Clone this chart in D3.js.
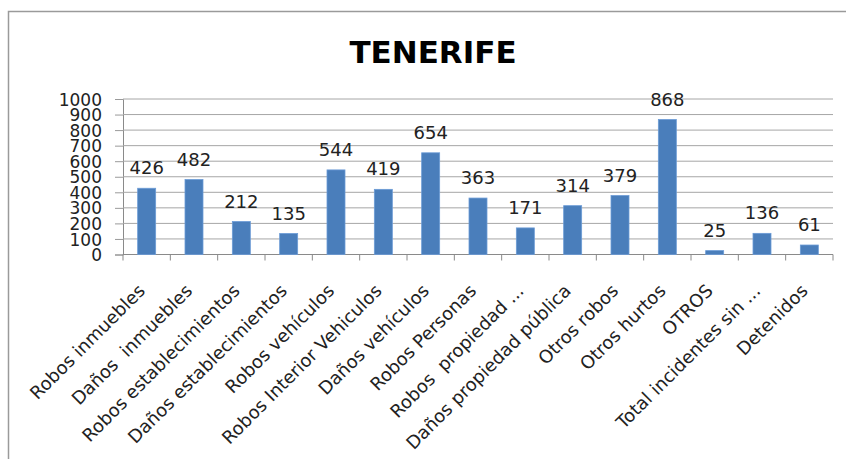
<!DOCTYPE html>
<html>
<head>
<meta charset="utf-8">
<script src="https://cdn.jsdelivr.net/npm/d3@7"></script>
<style>
  body { margin: 0; background: #fff; }
  text { font-family: "DejaVu Sans", sans-serif; fill: #222; }
</style>
</head>
<body>
<svg id="chart"></svg>
<script>
let categories = ['Robos inmuebles', 'Daños  inmuebles', 'Robos establecimientos',
  'Daños establecimientos', 'Robos vehículos', 'Robos Interior Vehiculos',
  'Daños vehículos', 'Robos Personas', 'Robos  propiedad ...', 'Daños propiedad pública',
  'Otros robos', 'Otros hurtos', 'OTROS', 'Total incidentes sin ...', 'Detenidos'];
let values = [426, 482, 212, 135, 544, 419, 654, 363, 171, 314, 379, 868, 25, 136, 61];
let yTicks = [0, 100, 200, 300, 400, 500, 600, 700, 800, 900, 1000];
let title = 'TENERIFE';

let width = 846, height = 459;
let plotLeft = 123, plotRight = 833, plotTop = 99, plotBottom = 254.5;

let svg = d3.select('#chart')
  .attr('width', width)
  .attr('height', height);

// frame
svg.append('path')
  .attr('d', 'M8.5,' + height + 'V11.5H' + width)
  .attr('fill', 'none')
  .attr('stroke', '#9a9a9a')
  .attr('stroke-width', 1.5);

svg.append('text')
  .attr('x', 433)
  .attr('y', 63)
  .attr('text-anchor', 'middle')
  .style('font-size', '31px')
  .style('font-weight', 'bold')
  .style('fill', '#000')
  .text(title);

let x = d3.scaleBand().domain(categories).range([plotLeft, plotRight]).paddingInner(0.62).paddingOuter(0.31);
let xTick = d3.scaleLinear().domain([0, categories.length]).range([plotLeft, plotRight]);
let y = d3.scaleLinear().domain([0, 1000]).range([plotBottom, plotTop]);

// y axis
let yAxis = d3.axisLeft(y).tickValues(yTicks).tickFormat(d3.format('d')).tickSize(8).tickPadding(13);
let gy = svg.append('g').attr('transform', 'translate(' + plotLeft + ',0)').call(yAxis);
gy.select('.domain').attr('stroke', '#8a8a8a');
gy.selectAll('.tick line').attr('stroke', '#9a9a9a');
gy.selectAll('.tick text').style('font-size', '17px').attr('fill', '#222').attr('dy', '0.36em');

// grid lines
svg.append('g')
  .selectAll('line')
  .data(yTicks.filter(d => d > 0))
  .join('line')
  .attr('x1', plotLeft).attr('x2', plotRight)
  .attr('y1', d => y(d)).attr('y2', d => y(d))
  .attr('stroke', '#a6a6a6');

// x axis with ticks between categories
svg.append('line')
  .attr('x1', plotLeft).attr('x2', plotRight)
  .attr('y1', plotBottom).attr('y2', plotBottom)
  .attr('stroke', '#8a8a8a');
svg.append('g')
  .selectAll('line')
  .data(d3.range(categories.length + 1))
  .join('line')
  .attr('x1', d => xTick(d)).attr('x2', d => xTick(d))
  .attr('y1', plotBottom).attr('y2', plotBottom + 6)
  .attr('stroke', '#8a8a8a');

// bars
svg.append('g')
  .selectAll('rect')
  .data(values)
  .join('rect')
  .attr('x', (d, i) => x(categories[i]))
  .attr('width', x.bandwidth())
  .attr('y', d => y(d))
  .attr('height', d => y(0) - y(d))
  .attr('fill', '#4a7ebb')
  .attr('stroke', '#6b9bd6')
  .attr('stroke-width', 0.8);

// value labels
svg.append('g')
  .selectAll('text')
  .data(values)
  .join('text')
  .attr('x', (d, i) => x(categories[i]) + x.bandwidth() / 2)
  .attr('y', d => y(d) - 14)
  .attr('text-anchor', 'middle')
  .style('font-size', '18px')
  .text(d => d);

// category labels
svg.append('g')
  .selectAll('text')
  .data(categories)
  .join('text')
  .attr('transform', d => 'translate(' + (x(d) + x.bandwidth() / 2 - 5) + ',' + (plotBottom + 33) + ') rotate(-45)')
  .attr('text-anchor', 'end')
  .attr('dy', '0.35em')
  .style('font-size', '18px')
  .style('white-space', 'pre')
  .text(d => d);
</script>
</body>
</html>
